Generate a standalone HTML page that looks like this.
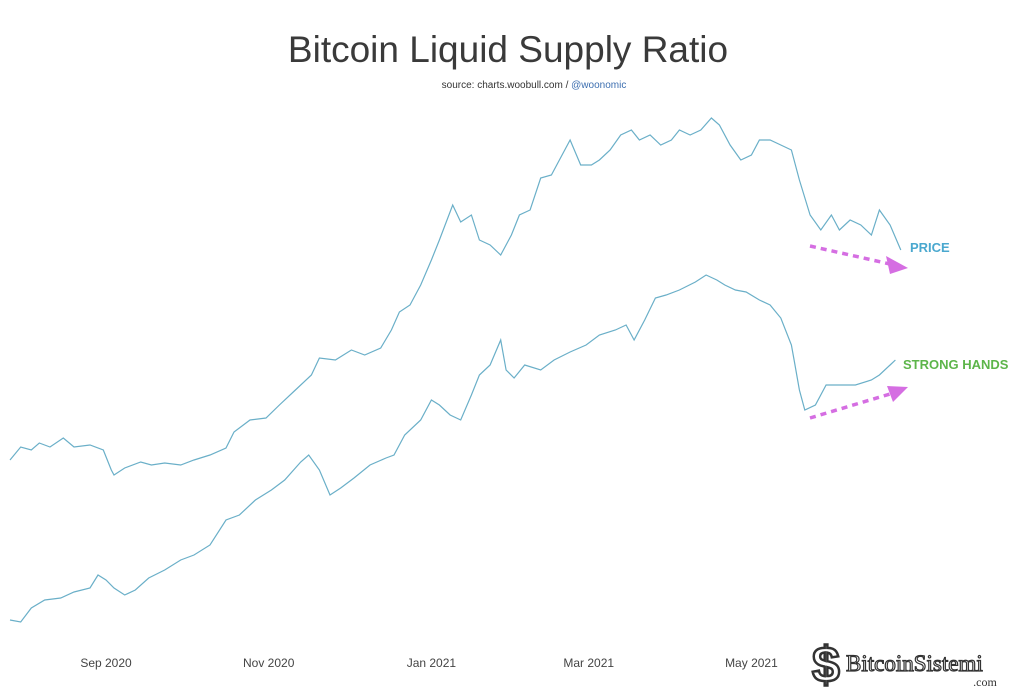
<!DOCTYPE html>
<html><head><meta charset="utf-8"><style>
body{margin:0;background:#fff;font-family:"Liberation Sans",sans-serif}
svg{display:block}
</style></head><body>
<svg id="chart" width="1024" height="694" viewBox="0 0 1024 694">
<rect width="1024" height="694" fill="#fff"/>
<text x="508" y="62" text-anchor="middle" font-size="37" fill="#3a3a3a">Bitcoin Liquid Supply Ratio</text>
<text x="534" y="88" text-anchor="middle" font-size="10" fill="#333">source: charts.woobull.com / <tspan fill="#3d6fb0">@woonomic</tspan></text>
<g id="axis"></g>
<g id="series"></g>
<text x="910" y="252" font-size="13" font-weight="bold" fill="#4aa8cf">PRICE</text>
<text x="903" y="369" font-size="13" font-weight="bold" fill="#5db54a">STRONG HANDS</text>
<g>
<line x1="810" y1="246" x2="890" y2="264" stroke="#d56ee2" stroke-width="3.5" stroke-dasharray="6,5"/>
<polygon points="886,256 908,268 890,274" fill="#d56ee2"/>
</g>
<g>
<line x1="810" y1="418" x2="890" y2="394" stroke="#d56ee2" stroke-width="3.5" stroke-dasharray="6,5"/>
<polygon points="887,386 908,387 893,402" fill="#d56ee2"/>
</g>
<g>
<text x="812" y="682" font-size="50" font-weight="bold" fill="#fff" stroke="#333" stroke-width="2.5">$</text>
<text x="846" y="671" font-size="23" font-family="Liberation Serif" fill="#fff" stroke="#333" stroke-width="1.2">BitcoinSistemi</text>
<text x="985" y="686" font-size="12" font-family="Liberation Serif" fill="#333" text-anchor="middle">.com</text>
</g>
</svg>
<script>
const tickLabels=["Sep 2020","Nov 2020","Jan 2021","Mar 2021","May 2021"];
const tickDays=[36,97,158,217,278];
const priceDays=[0,4,8,11,15,20,24,30,35,38,39,43,49,53,58,64,69,75,81,84,90,96,101,107,113,116,122,128,133,139,143,146,150,154,158,161,166,169,173,176,180,184,188,191,195,199,203,206,210,214,218,221,225,229,233,236,240,244,248,251,255,259,263,266,270,274,278,281,285,289,293,296,300,304,308,311,315,319,323,326,330,334];
const priceValues=[190,203,200,207,203,212,203,205,200,180,175,182,188,185,187,185,190,195,202,218,230,232,245,260,275,292,290,300,295,302,320,338,345,365,390,410,445,428,435,410,405,395,415,435,440,472,475,490,510,485,485,490,500,515,520,510,515,505,510,520,515,520,532,525,505,490,495,510,510,505,500,470,435,420,435,420,430,425,415,440,425,400];
const handsDays=[0,4,8,13,19,24,30,33,36,39,43,47,52,58,64,69,75,81,86,92,98,103,109,112,116,120,124,129,135,141,144,148,154,158,161,165,169,173,176,180,184,186,189,193,199,204,210,216,221,227,231,234,238,242,246,251,257,261,265,268,272,276,281,285,289,293,294,296,298,302,306,311,317,323,326,330,332];
const handsValues=[30,28,42,50,52,58,62,75,70,62,55,60,72,80,90,95,105,130,135,150,160,170,188,195,180,155,162,172,185,192,195,215,230,250,245,235,230,255,275,285,310,280,272,285,280,290,298,305,315,320,325,310,330,352,355,360,368,375,370,365,360,358,350,345,332,305,290,260,240,245,265,265,265,270,275,285,290];
const NS="http://www.w3.org/2000/svg";
function xs(d){return 10+d*2.667;}
function ys(v){return 650-v;}
const axis=document.getElementById('axis');
tickLabels.forEach((t,i)=>{
  const el=document.createElementNS(NS,'text');
  el.setAttribute('x',xs(tickDays[i]));el.setAttribute('y',667);
  el.setAttribute('text-anchor','middle');el.setAttribute('font-size','12');el.setAttribute('fill','#444');
  el.textContent=t;
  
  
  axis.appendChild(el);
});
const g=document.getElementById('series');
function line(days,vals,name){
  const p=document.createElementNS(NS,'path');
  p.setAttribute('d',days.map((d,i)=>(i?'L':'M')+xs(d).toFixed(1)+','+ys(vals[i]).toFixed(1)).join(''));
  p.setAttribute('fill','none');p.setAttribute('stroke','#6aafc8');p.setAttribute('stroke-width','1.2');
  
  
  g.appendChild(p);
}
line(priceDays,priceValues,'price-line');
line(handsDays,handsValues,'strong-hands-line');
</script>
</body></html>
